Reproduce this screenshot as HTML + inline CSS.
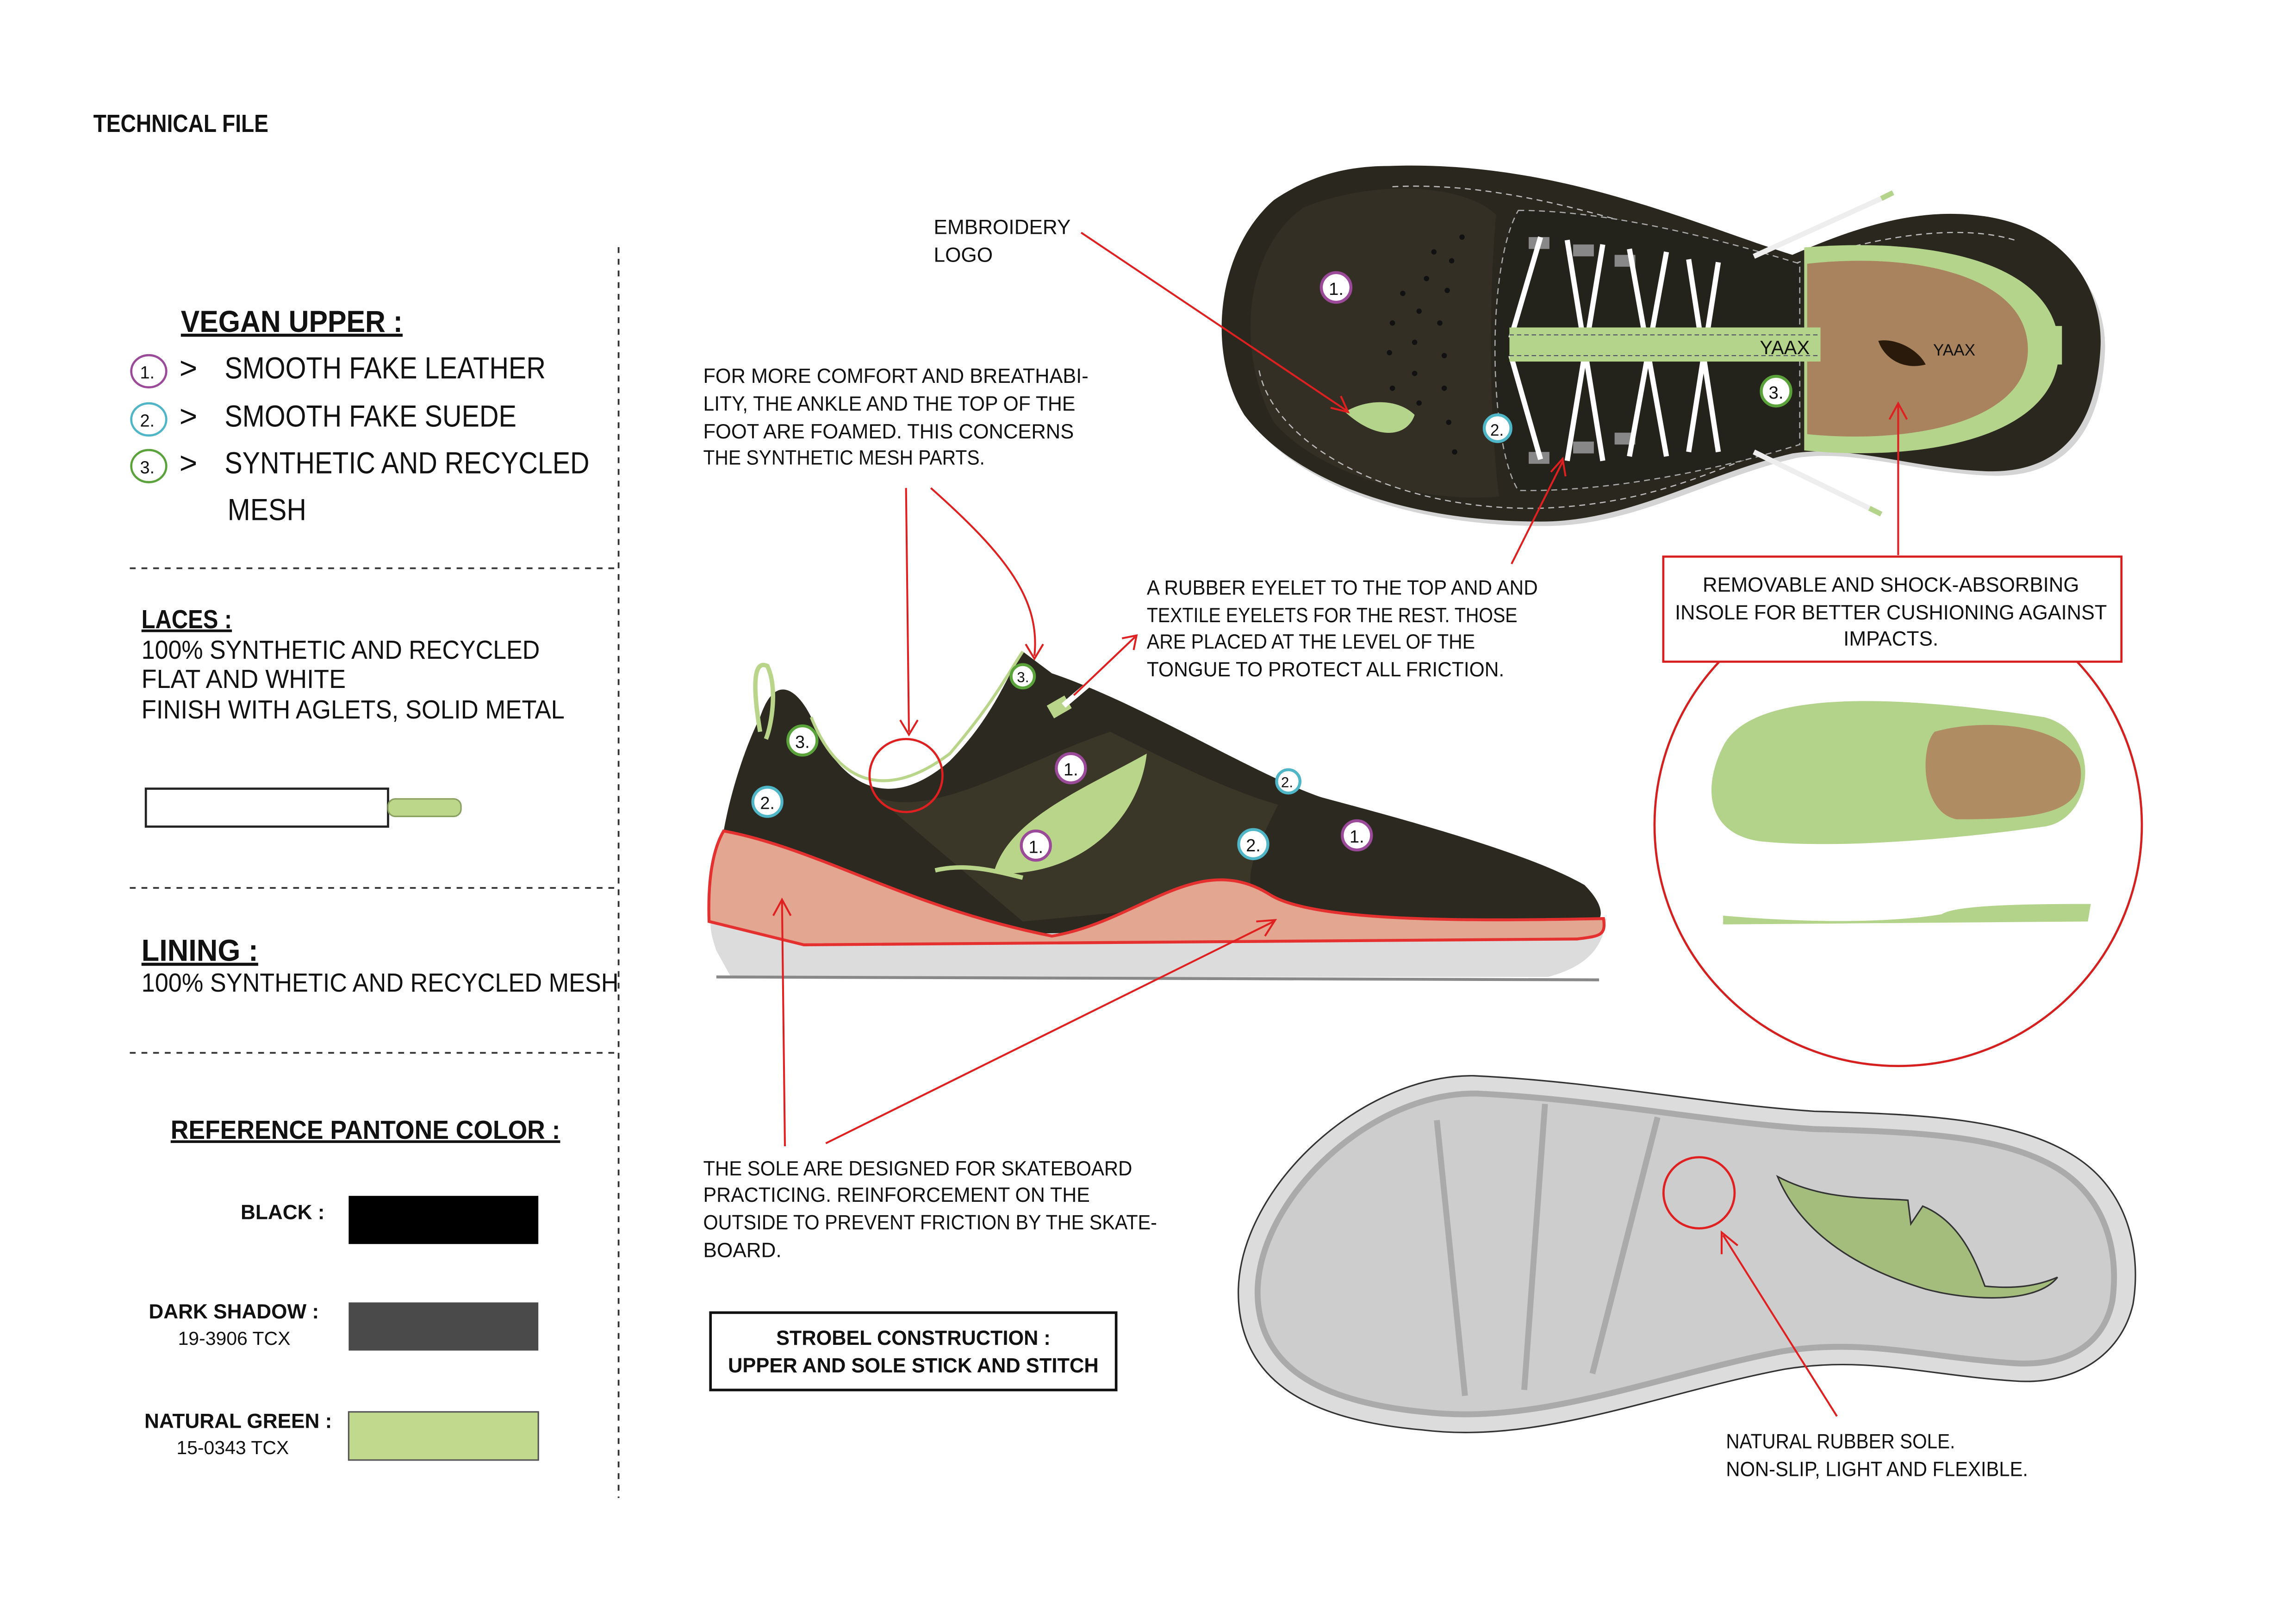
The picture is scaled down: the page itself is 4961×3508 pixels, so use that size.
<!DOCTYPE html>
<html><head><meta charset="utf-8"><style>html,body{margin:0;padding:0;background:#fff}svg{display:block}text{font-family:"Liberation Sans Narrow","Liberation Sans",sans-serif;fill:#111}</style></head><body>
<svg width="4961" height="3508" viewBox="0 0 1550 1096" preserveAspectRatio="none" xmlns="http://www.w3.org/2000/svg">
<rect width="1550" height="1096" fill="#fff"/>

<!-- ===== top view shoe (true coords) ===== -->
<path d="M938,115 C1050,111 1140,153 1210,175 C1260,153 1300,143 1340,149 C1400,158 1423,203 1421,238 C1418,293 1393,323 1343,321 C1293,319 1253,303 1213,309 C1153,323 1103,355 1043,355 C943,355 873,323 843,283 C818,243 823,173 863,138 C888,121 913,115 938,115 Z" fill="#d4d4d4"/>
<path d="M938,112 C1050,108 1140,150 1210,172 C1260,150 1300,140 1340,146 C1400,155 1420,200 1418,235 C1415,290 1390,320 1340,318 C1290,316 1250,300 1210,306 C1150,320 1100,352 1040,352 C940,352 870,320 840,280 C815,240 820,170 860,135 C885,118 910,112 938,112 Z" fill="#2a281e"/>
<path d="M880,140 C930,120 990,125 1010,145 C1005,200 1005,280 1012,335 C960,340 890,320 860,285 C835,240 838,170 880,140 Z" fill="#332f24"/>
<path d="M940,126 C1020,122 1100,150 1200,182 C1260,160 1320,150 1360,162" stroke="#bbb" stroke-width="0.8" stroke-dasharray="4,3" fill="none"/>
<path d="M850,250 C860,300 940,345 1040,343 C1120,340 1160,315 1210,298" stroke="#bbb" stroke-width="0.8" stroke-dasharray="4,3" fill="none"/>
<path d="M1025,142 C1080,142 1150,158 1215,178 L1215,300 C1150,320 1080,332 1025,331 C1005,300 1003,180 1025,142 Z" fill="#24231b" stroke="#aaa" stroke-width="0.8" stroke-dasharray="4,3"/>
<path d="M1218,167 C1300,160 1390,175 1390,236 C1390,295 1300,312 1218,304 Z" fill="#b5d48b"/>
<path d="M1220,178 C1290,170 1369,185 1369,236 C1369,285 1290,300 1220,293 Z" fill="#a8835e"/>
<rect x="1385" y="220" width="7" height="26" fill="#b5d48b"/>
<g fill="#888"><rect x="1032" y="160" width="14" height="8"/><rect x="1062" y="165" width="14" height="8"/><rect x="1090" y="172" width="14" height="8"/><rect x="1032" y="305" width="14" height="8"/><rect x="1062" y="298" width="14" height="8"/><rect x="1090" y="292" width="14" height="8"/></g>
<g stroke="#fff" stroke-width="3.5" fill="none">
<path d="M1040,160 L1020,228 M1040,310 L1020,240"/>
<line x1="1058" y1="162" x2="1082" y2="311"/><line x1="1082" y1="165" x2="1058" y2="311"/>
<line x1="1100" y1="168" x2="1125" y2="308"/><line x1="1125" y1="170" x2="1100" y2="308"/>
<line x1="1140" y1="175" x2="1160" y2="305"/><line x1="1160" y1="177" x2="1140" y2="305"/>
</g>
<rect x="1019" y="221" width="210" height="23" fill="#b5d48b"/>
<line x1="1019" y1="226" x2="1229" y2="226" stroke="#556" stroke-width="0.7" stroke-dasharray="3,2"/>
<line x1="1019" y1="240" x2="1229" y2="240" stroke="#556" stroke-width="0.7" stroke-dasharray="3,2"/>
<text x="1188" y="239" font-size="13" fill="#222">YAAX</text>
<text x="1305" y="240" font-size="11" fill="#3a2a18">YAAX</text>
<path d="M1268,230 C1280,228 1295,236 1300,246 C1285,250 1272,242 1268,230Z" fill="#2a1a0c"/>
<line x1="1184" y1="173" x2="1270" y2="134" stroke="#eee" stroke-width="3.5"/><line x1="1270" y1="134" x2="1278" y2="130" stroke="#b5d48b" stroke-width="3.5"/>
<line x1="1184" y1="305" x2="1262" y2="343" stroke="#eee" stroke-width="3.5"/><line x1="1262" y1="343" x2="1270" y2="347" stroke="#b5d48b" stroke-width="3.5"/>
<path d="M908,278 C925,268 945,270 955,280 C950,295 930,298 908,278Z" fill="#b5d48b"/>
<g fill="#111"><circle cx="987" cy="160" r="1.8"/><circle cx="968" cy="170" r="1.8"/><circle cx="980" cy="176" r="1.8"/><circle cx="947" cy="198" r="1.8"/><circle cx="963" cy="188" r="1.8"/><circle cx="977" cy="196" r="1.8"/><circle cx="958" cy="210" r="1.8"/><circle cx="972" cy="218" r="1.8"/><circle cx="940" cy="218" r="1.8"/><circle cx="955" cy="231" r="1.8"/><circle cx="975" cy="240" r="1.8"/><circle cx="938" cy="238" r="1.8"/><circle cx="955" cy="252" r="1.8"/><circle cx="975" cy="262" r="1.8"/><circle cx="940" cy="262" r="1.8"/><circle cx="958" cy="272" r="1.8"/><circle cx="978" cy="285" r="1.8"/><circle cx="982" cy="305" r="1.8"/></g>
<circle cx="902" cy="194" r="10" fill="#fff" stroke="#9b4a9a" stroke-width="2"/><text x="897" y="199" font-size="12">1.</text>
<circle cx="1011" cy="289" r="9" fill="#fff" stroke="#4fb6c8" stroke-width="2"/><text x="1006" y="294" font-size="11">2.</text>
<circle cx="1199" cy="264" r="10" fill="#fff" stroke="#5aa23a" stroke-width="2"/><text x="1194" y="269" font-size="12">3.</text>

<!-- ===== bottom sole (true coords) ===== -->
<path d="M995,726 C1080,730 1150,745 1225,750 C1300,752 1360,755 1400,780 C1440,805 1445,850 1440,880 C1432,915 1400,935 1360,932 C1300,928 1260,915 1205,924 C1120,940 1040,975 960,965 C880,958 835,930 836,870 C838,800 920,725 995,726 Z" fill="#dcdcdc" stroke="#333" stroke-width="1"/>
<path d="M997,738 C1080,742 1150,757 1225,762 C1300,764 1352,767 1388,788 C1425,810 1430,850 1426,878 C1420,908 1395,922 1360,920 C1300,916 1258,903 1203,912 C1120,928 1040,962 962,953 C890,946 848,922 849,870 C851,808 925,737 997,738 Z" fill="#cdcdcd" stroke="#aaa" stroke-width="4"/>
<g stroke="#aaa" stroke-width="4"><line x1="970" y1="756" x2="989" y2="942"/><line x1="1043" y1="745" x2="1029" y2="938"/><line x1="1119" y1="754" x2="1075" y2="927"/></g>
<path d="M1200,794 C1230,810 1260,808 1288,810 L1290,826 L1298,814 C1325,825 1335,855 1340,868 C1360,870 1375,868 1389,862 C1375,880 1330,878 1300,870 C1250,855 1215,830 1200,794 Z" fill="#a4bc7c" stroke="#333" stroke-width="1"/>
<circle cx="1147" cy="805" r="24" fill="none" stroke="#e02020" stroke-width="1.5"/>

<!-- ===== everything else (scaled group) ===== -->
<g transform="translate(63,89) scale(0.985) translate(-63,-89)">
<text x="63" y="89" font-size="17" font-weight="bold" textLength="120" lengthAdjust="spacingAndGlyphs">TECHNICAL FILE</text>
<g stroke="#333" stroke-width="1.2" stroke-dasharray="4,4" fill="none">
<line x1="423" y1="168" x2="423" y2="1025"/>
<line x1="88" y1="388" x2="423" y2="388"/>
<line x1="88" y1="607" x2="423" y2="607"/>
<line x1="88" y1="720" x2="423" y2="720"/>
</g>
<text x="123" y="226" font-size="21" font-weight="bold" text-decoration="underline" textLength="152" lengthAdjust="spacingAndGlyphs">VEGAN UPPER :</text>
<g font-size="21">
<ellipse cx="101" cy="253" rx="12" ry="11" fill="#fff" stroke="#9b4a9a" stroke-width="1.5"/><text x="95" y="258" font-size="12">1.</text>
<text x="122" y="258">&gt;</text><text x="153" y="258" textLength="220" lengthAdjust="spacingAndGlyphs">SMOOTH FAKE LEATHER</text>
<ellipse cx="101" cy="286" rx="12" ry="11" fill="#fff" stroke="#4fb6c8" stroke-width="1.5"/><text x="95" y="291" font-size="12">2.</text>
<text x="122" y="291">&gt;</text><text x="153" y="291" textLength="200" lengthAdjust="spacingAndGlyphs">SMOOTH FAKE SUEDE</text>
<ellipse cx="101" cy="318" rx="12" ry="11" fill="#fff" stroke="#5aa23a" stroke-width="1.5"/><text x="95" y="323" font-size="12">3.</text>
<text x="122" y="323">&gt;</text><text x="153" y="323" textLength="250" lengthAdjust="spacingAndGlyphs">SYNTHETIC AND RECYCLED</text>
<text x="155" y="355" textLength="54" lengthAdjust="spacingAndGlyphs">MESH</text>
</g>
<text x="96" y="429" font-size="18" font-weight="bold" text-decoration="underline" textLength="62" lengthAdjust="spacingAndGlyphs">LACES :</text>
<g font-size="18">
<text x="96" y="450" textLength="273" lengthAdjust="spacingAndGlyphs">100% SYNTHETIC AND RECYCLED</text>
<text x="96" y="470" textLength="140" lengthAdjust="spacingAndGlyphs">FLAT AND WHITE</text>
<text x="96" y="491" textLength="290" lengthAdjust="spacingAndGlyphs">FINISH WITH AGLETS, SOLID METAL</text>
</g>
<rect x="99" y="539" width="166" height="26" fill="#fff" stroke="#222" stroke-width="1.5"/>
<rect x="265" y="546" width="50" height="12" rx="5" fill="#bcd68a" stroke="#8aa060" stroke-width="1"/>
<text x="96" y="657" font-size="21" font-weight="bold" text-decoration="underline" textLength="80" lengthAdjust="spacingAndGlyphs">LINING :</text>
<text x="96" y="678" font-size="18" textLength="327" lengthAdjust="spacingAndGlyphs">100% SYNTHETIC AND RECYCLED MESH</text>
<text x="116" y="779" font-size="18" font-weight="bold" text-decoration="underline" textLength="267" lengthAdjust="spacingAndGlyphs">REFERENCE PANTONE COLOR :</text>
<text x="164" y="834" font-size="14" font-weight="bold">BLACK :</text>
<rect x="238" y="818" width="130" height="33" fill="#000"/>
<text x="101" y="902" font-size="14" font-weight="bold">DARK SHADOW :</text>
<text x="121" y="920" font-size="13">19-3906 TCX</text>
<rect x="238" y="891" width="130" height="33" fill="#4a4a4a"/>
<text x="98" y="977" font-size="14" font-weight="bold">NATURAL GREEN :</text>
<text x="120" y="995" font-size="13">15-0343 TCX</text>
<rect x="238" y="966" width="130" height="33" fill="#c1d98c" stroke="#555" stroke-width="1"/>

<g font-size="14">
<text x="639" y="159">EMBROIDERY</text><text x="639" y="178">LOGO</text>
<text x="481" y="261" textLength="264" lengthAdjust="spacingAndGlyphs">FOR MORE COMFORT AND BREATHABI-</text>
<text x="481" y="280" textLength="255" lengthAdjust="spacingAndGlyphs">LITY, THE ANKLE AND THE TOP OF THE</text>
<text x="481" y="299" textLength="254" lengthAdjust="spacingAndGlyphs">FOOT ARE FOAMED. THIS CONCERNS</text>
<text x="481" y="317" textLength="193" lengthAdjust="spacingAndGlyphs">THE SYNTHETIC MESH PARTS.</text>
<text x="785" y="406" textLength="268" lengthAdjust="spacingAndGlyphs">A RUBBER EYELET TO THE TOP AND AND</text>
<text x="785" y="425" textLength="254" lengthAdjust="spacingAndGlyphs">TEXTILE EYELETS FOR THE REST. THOSE</text>
<text x="785" y="443" textLength="225" lengthAdjust="spacingAndGlyphs">ARE PLACED AT THE LEVEL OF THE</text>
<text x="785" y="462" textLength="245" lengthAdjust="spacingAndGlyphs">TONGUE TO PROTECT ALL FRICTION.</text>
<text x="481" y="804" textLength="294" lengthAdjust="spacingAndGlyphs">THE SOLE ARE DESIGNED FOR SKATEBOARD</text>
<text x="481" y="822" textLength="265" lengthAdjust="spacingAndGlyphs">PRACTICING. REINFORCEMENT ON THE</text>
<text x="481" y="841" textLength="311" lengthAdjust="spacingAndGlyphs">OUTSIDE TO PREVENT FRICTION BY THE SKATE-</text>
<text x="481" y="860">BOARD.</text>
<text x="1182" y="991" textLength="157" lengthAdjust="spacingAndGlyphs">NATURAL RUBBER SOLE.</text>
<text x="1182" y="1010" textLength="207" lengthAdjust="spacingAndGlyphs">NON-SLIP, LIGHT AND FLEXIBLE.</text>
</g>

<!-- insole circle -->
<ellipse cx="1300" cy="564" rx="167" ry="165" fill="none" stroke="#d62020" stroke-width="1.5"/>
<path d="M1180,510 C1200,470 1300,475 1400,490 C1440,500 1435,560 1400,565 C1330,575 1250,580 1205,575 C1170,570 1165,540 1180,510 Z" fill="#b3d28a"/>
<path d="M1325,500 C1360,490 1420,495 1425,525 C1428,555 1400,560 1340,560 C1315,555 1315,510 1325,500Z" fill="#b08c62"/>
<path d="M1180,626 C1250,632 1300,630 1330,625 C1340,618 1400,618 1432,618 L1430,630 L1180,632Z" fill="#b3d28a"/>
<rect x="1139" y="380" width="314" height="72" fill="#fff" stroke="#d62020" stroke-width="1.5"/>
<g font-size="14">
<text x="1295" y="404" text-anchor="middle" textLength="258" lengthAdjust="spacingAndGlyphs">REMOVABLE AND SHOCK-ABSORBING</text>
<text x="1295" y="423" text-anchor="middle" textLength="296" lengthAdjust="spacingAndGlyphs">INSOLE FOR BETTER CUSHIONING AGAINST</text>
<text x="1295" y="441" text-anchor="middle">IMPACTS.</text>
</g>
<rect x="486" y="898" width="278" height="53" fill="#fff" stroke="#111" stroke-width="1.8"/>
<text x="625" y="920" font-size="14" font-weight="bold" text-anchor="middle" textLength="188" lengthAdjust="spacingAndGlyphs">STROBEL CONSTRUCTION :</text>
<text x="625" y="939" font-size="14" font-weight="bold" text-anchor="middle" textLength="254" lengthAdjust="spacingAndGlyphs">UPPER AND SOLE STICK AND STITCH</text>

<!-- side shoe -->
<path d="M490,650 C485,635 483,625 495,620 L1100,628 C1098,645 1090,660 1060,668 L500,668 Z" fill="#dcdcdc"/>
<path d="M490,668 L1095,670" stroke="#888" stroke-width="2"/>
<path d="M520,490 C530,460 545,470 555,490 C575,540 610,555 650,520 C680,490 690,460 700,445 L720,460 C780,480 860,530 905,545 C980,565 1050,585 1085,605 C1100,620 1098,630 1090,632 L600,640 L495,568 C500,540 510,510 520,490 Z" fill="#2c2a20"/>
<path d="M600,545 C640,560 700,520 760,500 C800,520 840,540 875,550 C860,580 850,600 860,615 L700,630 Z" fill="#3a3628"/>
<path d="M680,597 C690,560 740,540 785,515 C780,560 740,600 680,597 Z" fill="#b9d58a"/>
<path d="M640,595 C660,590 680,595 700,600" stroke="#b9d58a" stroke-width="3" fill="none"/>
<path d="M495,568 C560,580 620,620 720,640 C780,630 820,580 870,612 C900,630 1000,630 1098,628 C1100,640 1095,640 1080,642 L550,646 L485,630 C484,600 488,580 495,568 Z" fill="#e3a690" stroke="#e53030" stroke-width="2"/>
<path d="M520,500 C515,470 515,450 525,455 C532,470 528,495 524,505" stroke="#b9d58a" stroke-width="3" fill="none"/>
<path d="M555,490 C575,540 610,545 650,515 C680,480 690,460 700,445" stroke="#b9d58a" stroke-width="2" fill="none"/>
<rect x="718" y="478" width="14" height="10" fill="#b9d58a" transform="rotate(-30 725 483)"/>
<line x1="728" y1="482" x2="748" y2="465" stroke="#fff" stroke-width="4"/>
<g font-size="12">
<circle cx="549" cy="506" r="10" fill="#fff" stroke="#5aa23a" stroke-width="2"/><text x="544" y="511">3.</text>
<circle cx="525" cy="548" r="10" fill="#fff" stroke="#4fb6c8" stroke-width="2"/><text x="520" y="553">2.</text>
<circle cx="700" cy="462" r="8" fill="#fff" stroke="#5aa23a" stroke-width="2"/><text x="696" y="466" font-size="10">3.</text>
<circle cx="733" cy="525" r="10" fill="#fff" stroke="#9b4a9a" stroke-width="2"/><text x="728" y="530">1.</text>
<circle cx="709" cy="578" r="10" fill="#fff" stroke="#9b4a9a" stroke-width="2"/><text x="704" y="583">1.</text>
<circle cx="882" cy="534" r="8" fill="#fff" stroke="#4fb6c8" stroke-width="2"/><text x="877" y="538" font-size="10">2.</text>
<circle cx="858" cy="577" r="10" fill="#fff" stroke="#4fb6c8" stroke-width="2"/><text x="853" y="582">2.</text>
<circle cx="929" cy="571" r="10" fill="#fff" stroke="#9b4a9a" stroke-width="2"/><text x="924" y="576">1.</text>
</g>
<circle cx="620" cy="530" r="25" fill="none" stroke="#e02020" stroke-width="1.5"/>

<!-- red connectors -->
<g stroke="#e02020" stroke-width="1.3" fill="none">
<line x1="740" y1="158" x2="922" y2="280"/><path d="M911,278 L923,281 L918,270"/>
<line x1="620" y1="333" x2="622" y2="500"/><path d="M616,492 L622,502 L628,492"/>
<path d="M637,333 C690,380 712,410 708,448"/><path d="M702,440 L708,450 L714,440"/>
<line x1="735" y1="475" x2="777" y2="435"/><path d="M768,436 L778,434 L776,444"/>
<line x1="1035" y1="385" x2="1070" y2="315"/><path d="M1062,322 L1070,313 L1072,325"/>
<line x1="1300" y1="379" x2="1300" y2="276"/><path d="M1294,286 L1300,275 L1306,286"/>
<line x1="537" y1="784" x2="535" y2="616"/><path d="M529,626 L535,615 L541,626"/>
<line x1="565" y1="782" x2="872" y2="630"/><path d="M860,630 L873,629 L866,640"/>
<line x1="1258" y1="969" x2="1180" y2="845"/><path d="M1179,858 L1179,843 L1190,852"/>
</g>
</g>
</svg>
</body></html>
